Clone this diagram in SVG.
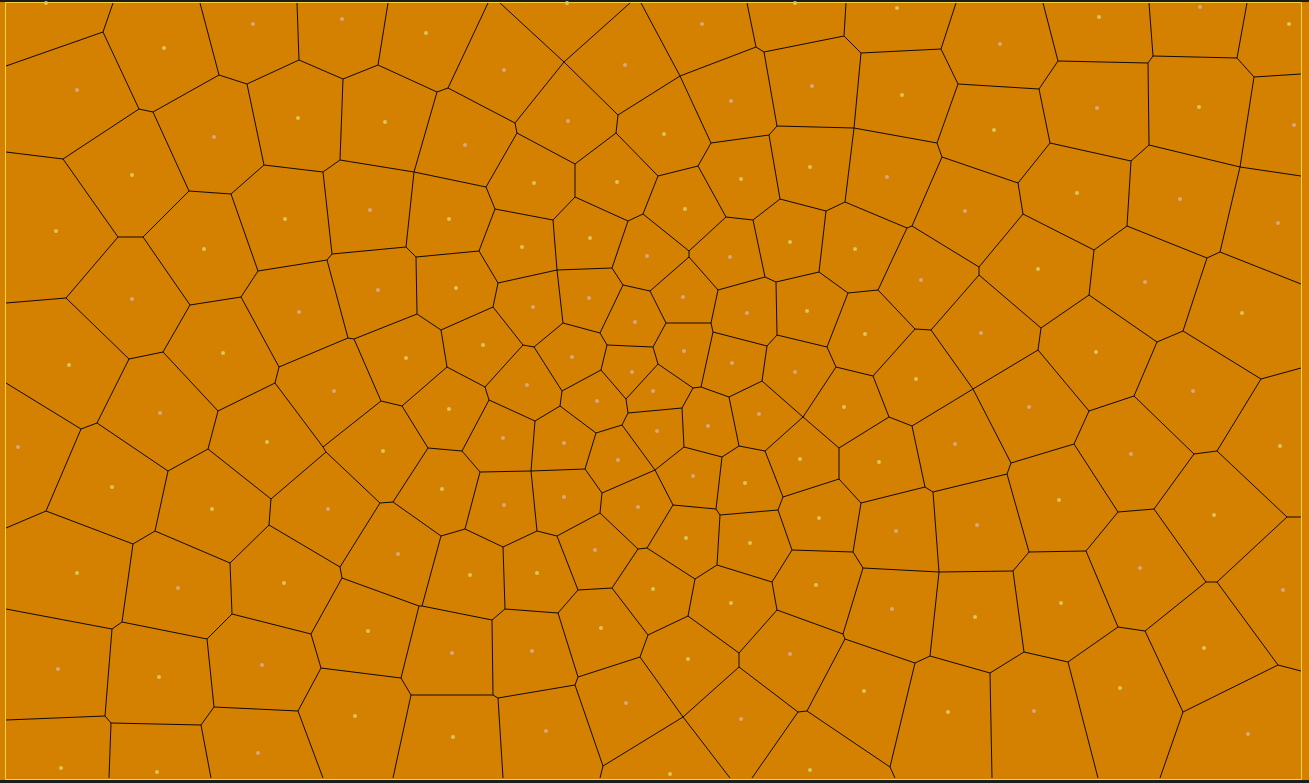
<svg xmlns="http://www.w3.org/2000/svg" width="1309" height="783" viewBox="0 0 1309 783">
<style>
.e{stroke:#120900;stroke-width:1;fill:none;stroke-linejoin:round}
.y{fill:#dcc65a}
.p{fill:#d9a67e}
</style>
<rect x="0" y="0" width="1309" height="783" fill="#d48000"/>
<rect x="0" y="0" width="1309" height="2" fill="#1c1c1c"/>
<rect x="0" y="780" width="1309" height="3" fill="#1c1c1c"/>
<path d="M5.5 2.5H1301.5V779.5H5.5Z" fill="none" stroke="#f4d23c" stroke-width="1"/>
<g id="connectors">
<path class="e" d="M113 3L103 32M103 32L6 66M103 32L139 109M139 109L153 112M139 109L63 159M63 159L6 152M63 159L118 237M118 237L143 237M118 237L66 298M143 237L190 305M143 237L189 191M189 191L231 194M189 191L153 112M153 112L219 75M219 75L200 3M219 75L247 84M247 84L299 60M299 60L297 3M299 60L343 79M247 84L264 165M264 165L231 194M264 165L323 172M231 194L258 271M323 172L340 160M323 172L332 254M343 79L378 65M378 65L388 3M343 79L340 160M340 160L414 172M378 65L437 92M437 92L448 88M448 88L488 3M448 88L515 123M437 92L414 172M414 172L486 187M414 172L406 247M406 247L332 254M406 247L416 257M416 257L479 251M515 123L517 133M515 123L564 62M564 62L500 3M564 62L630 3M564 62L618 115M618 115L616 133M618 115L680 76M517 133L575 164M575 164L575 197M517 133L486 187M486 187L495 209M495 209L553 220M553 220L575 197M575 197L628 221M616 133L575 164M616 133L658 176M628 221L643 214M643 214L658 176M643 214L689 251M628 221L612 268M553 220L557 270M495 209L479 251M479 251L498 283M641 3L680 76M680 76L711 143M711 143L698 166M698 166L658 176M698 166L726 217M756 47L747 3M756 47L680 76M756 47L764 52M764 52L844 36M844 36L846 3M844 36L861 53M861 53L941 49M941 49L956 3M941 49L958 84M958 84L1039 89M958 84L937 143M937 143L942 157M942 157L1018 183M942 157L912 226M912 226L907 228M937 143L854 128M854 128L861 53M854 128L777 126M777 126L764 52M777 126L769 135M769 135L711 143M769 135L780 199M780 199L826 211M826 211L845 202M845 202L854 128M845 202L907 228M780 199L753 220M753 220L726 217M726 217L689 251M689 251L689 257M689 257L650 291M650 291L666 323M623 285L650 291M689 257L718 290M753 220L765 277M826 211L819 272M907 228L878 290M912 226L979 267"/>
<path class="e" d="M1039 89L1058 61M1058 61L1043 3M1058 61L1148 63M1148 63L1153 56M1153 56L1149 3M1153 56L1237 58M1237 58L1247 3M1237 58L1254 77M1254 77L1301 74M1148 63L1149 145M1149 145L1131 161M1131 161L1127 226M1131 161L1050 143M1050 143L1039 89M1050 143L1018 183M1018 183L1023 214M1023 214L1094 250M1094 250L1127 226M1127 226L1207 258M1207 258L1220 252M1220 252L1240 167M1240 167L1254 77M1240 167L1301 176M1149 145L1240 167M1023 214L979 267M1094 250L1089 295M1220 252L1301 284M1207 258L1183 331"/>
<path class="e" d="M66 298L6 303M66 298L129 359M129 359L163 352M163 352L190 305M190 305L241 297M241 297L258 271M258 271L327 260M327 260L332 254M241 297L279 367M279 367L275 383M279 367L348 338M275 383L323 447M275 383L218 411M218 411L163 352M218 411L208 449M208 449L271 499M271 499L326 452M323 447L326 452M208 449L168 471M168 471L97 423M97 423L81 429M81 429L6 383M97 423L129 359M81 429L46 511M46 511L6 528M46 511L133 544M168 471L155 531M271 499L269 525M327 260L348 338M348 338L354 339M354 339L417 314M417 314L416 257M354 339L381 401M381 401L323 447M381 401L402 406M402 406L447 367M447 367L441 330M441 330L417 314M441 330L493 307M493 307L498 283M498 283L557 270M557 270L612 268M612 268L623 285M493 307L523 345M523 345L534 347M534 347L563 323M563 323L557 270M563 323L600 333M600 333L623 285M600 333L607 345M607 345L653 347M607 345L601 370M601 370L562 391M562 391L534 347M562 391L560 406M560 406L535 421M535 421L489 400M489 400L485 387M485 387L447 367M485 387L523 345M489 400L462 451M560 406L596 433M596 433L622 425M622 425L628 413M628 413L682 408M628 413L626 399M626 399L601 370M626 399L658 364M596 433L585 469M585 469L531 471M531 471L535 421M531 471L480 472M480 472L462 451M462 451L428 448M428 448L402 406M428 448L393 502M393 502L380 503M380 503L326 452M380 503L340 567M393 502L441 536M480 472L465 529M531 471L537 531M585 469L602 493M602 493L600 513M602 493L655 470M600 513L557 536M600 513L638 549"/>
<path class="e" d="M655 470L622 425M655 470L684 447M655 470L673 505M673 505L716 509M716 509L722 457M716 509L720 515M720 515L778 510M720 515L717 565M673 505L647 548M647 548L638 549M647 548L695 579M695 579L717 565M717 565L772 582M772 582L792 550M792 550L778 510M792 550L853 552M853 552L861 503M853 552L863 568M863 568L939 572M939 572L933 492M939 572L1013 571M939 572L930 656M930 656L915 663M915 663L890 767M890 767L895 778M930 656L990 673M863 568L843 634M843 634L777 610M777 610L772 582M777 610L739 653M739 653L688 616M688 616L695 579M688 616L648 635M739 653L739 667M739 667L683 717M683 717L603 766M683 717L730 778M683 717L640 657M739 667L798 712M798 712L807 711M843 634L845 639M845 639L915 663M845 639L807 711M807 711L890 767M798 712L752 778"/>
<path class="e" d="M718 290L711 323M718 290L765 277M765 277L776 282M776 282L819 272M819 272L848 293M848 293L878 290M878 290L915 329M915 329L931 330M931 330L979 275M931 330L973 389M776 282L777 335M777 335L767 346M777 335L827 347M827 347L848 293M827 347L836 367M836 367L873 376M873 376L915 329M873 376L889 417M889 417L912 426M912 426L973 389M912 426L925 487M925 487L933 492M933 492L1007 474M925 487L861 503M861 503L839 479M839 479L839 448M839 448L803 417M839 448L889 417M803 417L836 367M803 417L762 381M762 381L767 346M762 381L729 397M729 397L701 387M701 387L713 332M713 332L711 323M713 332L767 346M711 323L666 323M666 323L653 347M653 347L658 364M658 364L693 388M693 388L701 387M693 388L682 408M682 408L684 447M684 447L722 457M722 457L739 446M739 446L729 397M739 446L765 451M765 451L803 417M765 451L783 497M783 497L778 510M783 497L839 479"/>
<path class="e" d="M1007 474L1011 463M1011 463L973 389M1011 463L1074 444M1074 444L1089 411M1089 411L1038 350M1038 350L973 389M1038 350L1041 328M1041 328L979 275M979 275L979 267M1041 328L1089 295M1089 295L1157 342M1157 342L1183 331M1183 331L1261 379M1261 379L1301 368M1261 379L1217 451M1217 451L1194 454M1194 454L1134 396M1134 396L1157 342M1134 396L1089 411M1074 444L1118 512M1118 512L1154 509M1154 509L1194 454M1154 509L1206 582M1118 512L1086 551M1217 451L1287 517M1287 517L1301 517M1287 517L1217 582M1007 474L1029 552M1029 552L1013 571M1029 552L1086 551M1086 551L1118 627M1118 627L1145 631M1145 631L1206 582M1206 582L1217 582M1217 582L1278 665M1278 665L1301 671M1278 665L1183 712M1183 712L1145 631M1183 712L1160 778M1118 627L1068 662M1068 662L1098 778M1068 662L1024 652M1024 652L1013 571M1024 652L990 673M990 673L992 778"/>
<path class="e" d="M133 544L155 531M155 531L230 563M230 563L269 525M269 525L340 567M230 563L232 614M232 614L311 634M311 634L342 578M311 634L321 668M321 668L401 678M321 668L298 711M298 711L214 707M214 707L207 639M207 639L232 614M207 639L122 622M122 622L133 544M122 622L112 629M112 629L6 609M112 629L105 716M105 716L6 720M105 716L111 723M111 723L201 725M201 725L214 707M201 725L211 778M111 723L109 778M298 711L323 778M340 567L342 578M342 578L419 606M419 606L422 606M422 606L441 536M441 536L465 529M465 529L503 547M503 547L537 531M537 531L557 536M557 536L578 590M578 590L612 588M612 588L638 549M612 588L648 635M648 635L640 657M640 657L578 677M578 677L558 613M558 613L578 590M558 613L505 609M505 609L503 547M505 609L492 620M492 620L422 606M492 620L493 695M493 695L498 698M498 698L575 685M575 685L578 677M493 695L411 695M411 695L401 678M401 678L419 606M411 695L393 778M498 698L503 778M575 685L603 766M603 766L600 778"/>
</g>
<g id="seeds">
<circle class="y" cx="46" cy="3" r="2"/><circle class="p" cx="253" cy="24" r="2"/><circle class="y" cx="164" cy="48" r="2"/><circle class="p" cx="77" cy="90" r="2"/><circle class="y" cx="298" cy="118" r="2"/><circle class="p" cx="214" cy="137" r="2"/><circle class="y" cx="132" cy="175" r="2"/><circle class="y" cx="56" cy="231" r="2"/><circle class="y" cx="204" cy="249" r="2"/><circle class="y" cx="285" cy="219" r="2"/>
<circle class="p" cx="342" cy="19" r="2"/><circle class="y" cx="426" cy="33" r="2"/><circle class="y" cx="567" cy="3" r="2"/><circle class="p" cx="504" cy="70" r="2"/><circle class="p" cx="625" cy="65" r="2"/><circle class="y" cx="385" cy="122" r="2"/><circle class="p" cx="568" cy="121" r="2"/><circle class="p" cx="465" cy="145" r="2"/><circle class="y" cx="534" cy="183" r="2"/><circle class="y" cx="617" cy="182" r="2"/><circle class="p" cx="370" cy="210" r="2"/><circle class="y" cx="449" cy="219" r="2"/><circle class="y" cx="522" cy="247" r="2"/><circle class="y" cx="590" cy="238" r="2"/><circle class="p" cx="647" cy="256" r="2"/>
<circle class="y" cx="795" cy="3" r="2"/><circle class="y" cx="897" cy="8" r="2"/><circle class="p" cx="702" cy="24" r="2"/><circle class="p" cx="812" cy="86" r="2"/><circle class="y" cx="902" cy="95" r="2"/><circle class="p" cx="731" cy="101" r="2"/><circle class="y" cx="664" cy="134" r="2"/><circle class="y" cx="810" cy="167" r="2"/><circle class="p" cx="887" cy="177" r="2"/><circle class="y" cx="741" cy="179" r="2"/><circle class="p" cx="965" cy="211" r="2"/><circle class="y" cx="685" cy="209" r="2"/><circle class="y" cx="790" cy="242" r="2"/><circle class="y" cx="855" cy="249" r="2"/><circle class="p" cx="730" cy="257" r="2"/>
<circle class="p" cx="1200" cy="7" r="2"/><circle class="y" cx="1099" cy="17" r="2"/><circle class="y" cx="1289" cy="24" r="2"/><circle class="p" cx="1000" cy="44" r="2"/><circle class="p" cx="1097" cy="108" r="2"/><circle class="y" cx="1199" cy="107" r="2"/><circle class="p" cx="1294" cy="125" r="2"/><circle class="y" cx="994" cy="130" r="2"/><circle class="y" cx="1077" cy="193" r="2"/><circle class="p" cx="1180" cy="199" r="2"/><circle class="p" cx="1278" cy="223" r="2"/>
<circle class="p" cx="132" cy="299" r="2"/><circle class="p" cx="299" cy="312" r="2"/><circle class="y" cx="69" cy="365" r="2"/><circle class="y" cx="223" cy="353" r="2"/><circle class="p" cx="160" cy="413" r="2"/><circle class="y" cx="267" cy="442" r="2"/><circle class="p" cx="18" cy="447" r="2"/><circle class="y" cx="112" cy="487" r="2"/><circle class="y" cx="212" cy="509" r="2"/><circle class="p" cx="328" cy="509" r="2"/>
<circle class="p" cx="378" cy="290" r="2"/><circle class="y" cx="456" cy="288" r="2"/><circle class="p" cx="533" cy="307" r="2"/><circle class="p" cx="589" cy="298" r="2"/><circle class="p" cx="635" cy="322" r="2"/><circle class="p" cx="334" cy="391" r="2"/><circle class="y" cx="406" cy="358" r="2"/><circle class="y" cx="483" cy="345" r="2"/><circle class="p" cx="572" cy="357" r="2"/><circle class="p" cx="632" cy="372" r="2"/><circle class="p" cx="653" cy="391" r="2"/><circle class="p" cx="527" cy="385" r="2"/><circle class="p" cx="597" cy="401" r="2"/><circle class="y" cx="449" cy="409" r="2"/><circle class="p" cx="503" cy="438" r="2"/><circle class="p" cx="564" cy="443" r="2"/><circle class="p" cx="618" cy="460" r="2"/><circle class="y" cx="383" cy="451" r="2"/><circle class="y" cx="442" cy="489" r="2"/><circle class="p" cx="504" cy="505" r="2"/><circle class="p" cx="564" cy="497" r="2"/><circle class="p" cx="638" cy="507" r="2"/>
<circle class="p" cx="921" cy="280" r="2"/><circle class="p" cx="683" cy="297" r="2"/><circle class="p" cx="747" cy="313" r="2"/><circle class="y" cx="807" cy="311" r="2"/><circle class="y" cx="865" cy="334" r="2"/><circle class="p" cx="684" cy="351" r="2"/><circle class="p" cx="732" cy="363" r="2"/><circle class="p" cx="795" cy="372" r="2"/><circle class="y" cx="916" cy="379" r="2"/><circle class="p" cx="759" cy="414" r="2"/><circle class="y" cx="844" cy="407" r="2"/><circle class="p" cx="708" cy="426" r="2"/><circle class="p" cx="657" cy="431" r="2"/><circle class="p" cx="955" cy="444" r="2"/><circle class="y" cx="800" cy="459" r="2"/><circle class="y" cx="879" cy="462" r="2"/><circle class="p" cx="693" cy="476" r="2"/><circle class="y" cx="745" cy="483" r="2"/><circle class="y" cx="819" cy="518" r="2"/>
<circle class="y" cx="1038" cy="269" r="2"/><circle class="p" cx="1145" cy="282" r="2"/><circle class="y" cx="1242" cy="313" r="2"/><circle class="p" cx="981" cy="333" r="2"/><circle class="y" cx="1096" cy="352" r="2"/><circle class="p" cx="1029" cy="407" r="2"/><circle class="p" cx="1193" cy="391" r="2"/><circle class="y" cx="1280" cy="446" r="2"/><circle class="p" cx="1131" cy="454" r="2"/><circle class="y" cx="1059" cy="500" r="2"/><circle class="y" cx="1214" cy="515" r="2"/>
<circle class="y" cx="77" cy="573" r="2"/><circle class="p" cx="178" cy="588" r="2"/><circle class="y" cx="284" cy="583" r="2"/><circle class="p" cx="58" cy="669" r="2"/><circle class="y" cx="159" cy="677" r="2"/><circle class="p" cx="262" cy="665" r="2"/><circle class="y" cx="61" cy="768" r="2"/><circle class="y" cx="157" cy="772" r="2"/><circle class="p" cx="258" cy="753" r="2"/>
<circle class="p" cx="398" cy="554" r="2"/><circle class="y" cx="470" cy="575" r="2"/><circle class="y" cx="537" cy="573" r="2"/><circle class="p" cx="595" cy="550" r="2"/><circle class="y" cx="653" cy="589" r="2"/><circle class="y" cx="368" cy="631" r="2"/><circle class="p" cx="452" cy="653" r="2"/><circle class="p" cx="532" cy="651" r="2"/><circle class="y" cx="601" cy="628" r="2"/><circle class="y" cx="355" cy="716" r="2"/><circle class="y" cx="453" cy="737" r="2"/><circle class="p" cx="546" cy="731" r="2"/><circle class="p" cx="626" cy="703" r="2"/>
<circle class="y" cx="686" cy="538" r="2"/><circle class="y" cx="750" cy="543" r="2"/><circle class="p" cx="896" cy="531" r="2"/><circle class="p" cx="977" cy="525" r="2"/><circle class="y" cx="816" cy="585" r="2"/><circle class="y" cx="731" cy="603" r="2"/><circle class="p" cx="892" cy="609" r="2"/><circle class="y" cx="975" cy="617" r="2"/><circle class="y" cx="688" cy="659" r="2"/><circle class="p" cx="790" cy="654" r="2"/><circle class="y" cx="864" cy="691" r="2"/><circle class="y" cx="948" cy="712" r="2"/><circle class="p" cx="741" cy="719" r="2"/><circle class="y" cx="670" cy="774" r="2"/><circle class="y" cx="810" cy="770" r="2"/>
<circle class="p" cx="1140" cy="568" r="2"/><circle class="p" cx="1283" cy="590" r="2"/><circle class="y" cx="1061" cy="603" r="2"/><circle class="y" cx="1204" cy="648" r="2"/><circle class="y" cx="1120" cy="688" r="2"/><circle class="p" cx="1034" cy="711" r="2"/><circle class="p" cx="1248" cy="734" r="2"/>
</g>
</svg>
